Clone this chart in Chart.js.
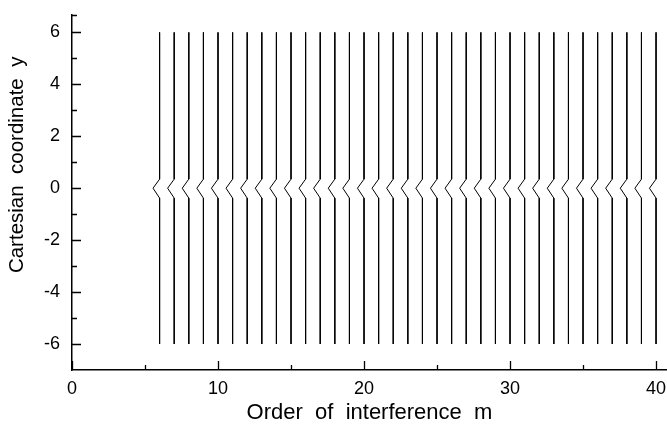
<!DOCTYPE html>
<html>
<head>
<meta charset="utf-8">
<script src="https://cdn.jsdelivr.net/npm/chart.js@4"></script>
<style>
  html, body { margin: 0; padding: 0; background: #fff; }
  #wrap { width: 667px; height: 427px; }
</style>
</head>
<body>
<div id="wrap"><canvas id="fringes" width="667" height="427"></canvas></div>
<script>
// interference orders drawn as fringe lines
const orders = [6, 7, 8, 9, 10, 11, 12, 13, 14, 15, 16, 17, 18, 19, 20, 21, 22, 23,
  24, 25, 26, 27, 28, 29, 30, 31, 32, 33, 34, 35, 36, 37, 38, 39, 40];

// fringe profile: y values and the shift in m at each of them
const profileY = [6, 0.35, 0, -0.38, -6];
const profileShift = [0, 0, -0.45, 0, 0];

// tick labels
const xTicks = [0, 10, 20, 30, 40];
const xMinorTicks = [5, 15, 25, 35];
const yTicks = [-6, -4, -2, 0, 2, 4, 6];
const yMinorTicks = [-5, -3, -1, 1, 3, 5];

const fontFamily = '"Liberation Sans", Arial, sans-serif';

const datasets = orders.map(m => ({
  label: 'm = ' + m,
  data: profileY.map((y, i) => ({ x: m + profileShift[i], y: y })),
  showLine: true,
  borderColor: '#000',
  borderWidth: 1,
  pointRadius: 0,
  tension: 0,
  fill: false
}));

// inward tick marks, axis cap and rotated y title
const axisDecor = {
  id: 'axisDecor',
  afterDraw(chart) {
    const ctx = chart.ctx;
    const xs = chart.scales.x;
    const ys = chart.scales.y;
    const area = chart.chartArea;
    ctx.save();
    ctx.strokeStyle = '#000';
    ctx.lineWidth = 1.3;
    ctx.beginPath();
    xTicks.forEach(v => {
      const px = Math.round(xs.getPixelForValue(v)) + 0.5;
      ctx.moveTo(px, area.bottom);
      ctx.lineTo(px, area.bottom - 9);
    });
    xMinorTicks.forEach(v => {
      const px = Math.round(xs.getPixelForValue(v)) + 0.5;
      ctx.moveTo(px, area.bottom);
      ctx.lineTo(px, area.bottom - 5);
    });
    yTicks.forEach(v => {
      const py = Math.round(ys.getPixelForValue(v)) + 0.5;
      ctx.moveTo(area.left, py);
      ctx.lineTo(area.left + 9, py);
    });
    yMinorTicks.forEach(v => {
      const py = Math.round(ys.getPixelForValue(v)) + 0.5;
      ctx.moveTo(area.left, py);
      ctx.lineTo(area.left + 5, py);
    });
    // little cap at the top end of the y axis
    ctx.moveTo(area.left, area.top + 0.5);
    ctx.lineTo(area.left + 5, area.top + 0.5);
    ctx.stroke();

    ctx.fillStyle = '#000';
    ctx.font = '20.5px ' + fontFamily;
    ctx.textAlign = 'center';
    ctx.textBaseline = 'middle';
    ctx.translate(17, ys.getPixelForValue(0.9));
    ctx.rotate(-Math.PI / 2);
    ctx.fillText('Cartesian  coordinate  y', 0, 0);
    ctx.restore();
  }
};

new Chart(document.getElementById('fringes'), {
  type: 'scatter',
  data: { datasets: datasets },
  plugins: [axisDecor],
  options: {
    responsive: false,
    animation: false,
    devicePixelRatio: 1,
    layout: {
      padding: { top: 15, right: 0, left: 0, bottom: 0 }
    },
    plugins: {
      legend: { display: false },
      tooltip: { enabled: false }
    },
    scales: {
      x: {
        type: 'linear',
        min: 0,
        max: 40.75,
        afterBuildTicks: scale => { scale.ticks = xTicks.map(v => ({ value: v })); },
        afterFit: scale => {
          scale.height = 57;
          scale.paddingLeft = 0;
          scale.paddingRight = 0;
        },
        grid: { display: false, drawTicks: false },
        border: { display: true, color: '#000', width: 1.5 },
        ticks: {
          color: '#000',
          padding: 8,
          maxRotation: 0,
          autoSkip: false,
          font: { family: fontFamily, size: 18 }
        },
        title: {
          display: true,
          text: 'Order  of  interference  m',
          color: '#000',
          padding: { top: 0, bottom: 1 },
          font: { family: fontFamily, size: 22 }
        }
      },
      y: {
        type: 'linear',
        min: -7,
        max: 6.67,
        afterBuildTicks: scale => { scale.ticks = yTicks.map(v => ({ value: v })); },
        afterFit: scale => {
          scale.width = 72;
          scale.paddingTop = 0;
          scale.paddingBottom = 0;
        },
        grid: { display: false, drawTicks: false },
        border: { display: true, color: '#000', width: 1.5 },
        ticks: {
          color: '#000',
          padding: 12,
          autoSkip: false,
          font: { family: fontFamily, size: 18 }
        }
      }
    }
  }
});
</script>
</body>
</html>
